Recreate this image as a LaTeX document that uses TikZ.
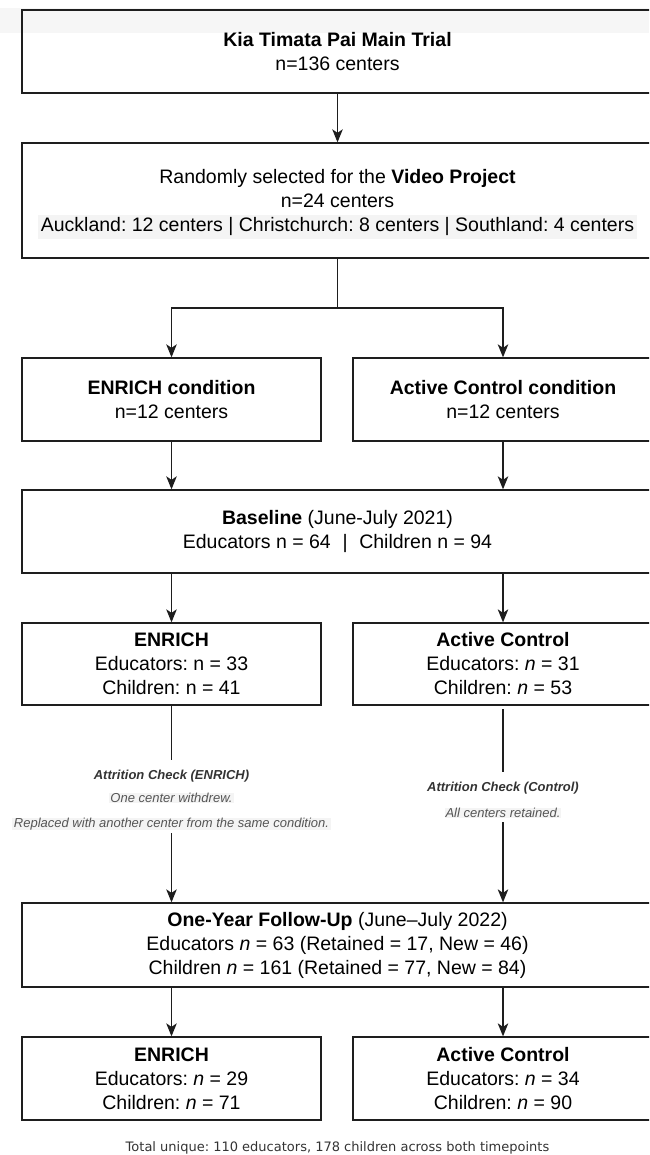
\documentclass[tikz,border=0pt]{standalone}
\usepackage{fontspec}
\setmainfont{Liberation Sans}
\newfontfamily\dejavu{DejaVu Sans}
\usetikzlibrary{arrows.meta}
\definecolor{ink}{HTML}{1E1E1E}
\definecolor{notegray}{HTML}{555555}
\definecolor{notedark}{HTML}{333333}
\definecolor{hl}{HTML}{F4F4F4}
\definecolor{band}{HTML}{F6F6F6}
\setlength{\fboxsep}{0pt}
\frenchspacing
\begin{document}
\frenchspacing
\begin{tikzpicture}[x=1pt,y=-1pt,
  box/.style={draw=ink, line width=1.3pt, align=center, inner sep=0pt,
    font=\fontsize{19.5}{24}\selectfont, text=black},
  line/.style={draw=ink, line width=1.3pt},
  arr/.style={line, -{Stealth[length=13pt,width=10.5pt,inset=3.5pt]}},
  note/.style={font=\fontsize{13}{16}\selectfont\itshape, text=notegray, anchor=base, inner sep=0pt},
  notehead/.style={font=\fontsize{13}{16}\selectfont\bfseries\itshape, text=notedark, anchor=base, inner sep=0pt}]

\useasboundingbox (0,0) rectangle (649,1155);
\clip (0,0) rectangle (649,1155);
\fill[band] (0,8) rectangle (649,33);

% boxes
\node[box, minimum width=631pt, minimum height=83pt] (trial) at (337.5,51.5)
  {\textbf{Kia Timata Pai Main Trial}\\n=136 centers};
\node[box, minimum width=631pt, minimum height=115pt] (select) at (337.5,200.5)
  {Randomly selected for the \textbf{Video Project}\\n=24 centers\\
   \smash{\colorbox{hl}{\kern3pt\strut Auckland: 12 centers | Christchurch: 8 centers | Southland: 4 centers\kern3pt}}};
\node[box, minimum width=299pt, minimum height=83pt] (enc) at (171.5,399.5)
  {\textbf{ENRICH condition}\\n=12 centers};
\node[box, minimum width=300pt, minimum height=83pt] (acc) at (503,399.5)
  {\textbf{Active Control condition}\\n=12 centers};
\node[box, minimum width=631pt, minimum height=83pt] (base) at (337.5,531.5)
  {\textbf{Baseline} (June-July 2021)\\Educators n = 64\hspace{0.6em}|\hspace{0.6em}Children n = 94};
\node[box, minimum width=299pt, minimum height=82pt] (enr) at (171.5,664)
  {\textbf{ENRICH}\\Educators: n = 33\\Children: n = 41};
\node[box, minimum width=300pt, minimum height=82pt] (act) at (503,664)
  {\textbf{Active Control}\\Educators: \textit{n} = 31\\Children: \textit{n} = 53};
\node[box, minimum width=631pt, minimum height=84pt] (fu) at (337.5,945)
  {\textbf{One-Year Follow-Up} (June--July 2022)\\Educators \textit{n} = 63 (Retained = 17, New = 46)\\Children \textit{n} = 161 (Retained = 77, New = 84)};
\node[box, minimum width=299pt, minimum height=83pt] (fenr) at (171.5,1078.5)
  {\textbf{ENRICH}\\Educators: \textit{n} = 29\\Children: \textit{n} = 71};
\node[box, minimum width=300pt, minimum height=83pt] (fact) at (503,1078.5)
  {\textbf{Active Control}\\Educators: \textit{n} = 34\\Children: \textit{n} = 90};

% attrition notes
\node[notehead] (attE) at (171.5,779.5) {Attrition Check (ENRICH)};
\node[note, fill=hl, inner xsep=1pt] (attE1) at (171.5,802.5) {One center withdrew.};
\node[note, fill=hl, inner xsep=2pt] (attE2) at (171.5,827.5) {Replaced with another center from the same condition.};
\node[notehead] (attC) at (503,791.5) {Attrition Check (Control)};
\node[note, fill=hl, inner xsep=1pt] (attC1) at (503,817.5) {All centers retained.};

\node[font=\dejavu\fontsize{13}{16}\selectfont, text=notedark, anchor=base, inner sep=0pt] (total)
  at (337.5,1151.5) {Total unique: 110 educators, 178 children across both timepoints};

% coordinates
\coordinate (split) at (337.5,308);
\coordinate (eTop) at (171.5,760);
\coordinate (eBot) at (171.5,833);
\coordinate (cStart) at (503,709);
\coordinate (cTop) at (503,772);
\coordinate (cBot) at (503,822);

% connectors
\draw[arr] (trial.south) -- (select.north);
\draw[line] (select.south) -- (split);
\draw[arr] (split) -| (enc.north);
\draw[arr] (split) -| (acc.north);
\draw[arr] (enc.south) -- (enc.south |- base.north);
\draw[arr] (acc.south) -- (acc.south |- base.north);
\draw[arr] (base.south -| enr.north) -- (enr.north);
\draw[arr] (base.south -| act.north) -- (act.north);
\draw[line] (enr.south) -- (eTop);
\draw[arr] (eBot) -- (eBot |- fu.north);
\draw[line] (cStart) -- (cTop);
\draw[arr] (cBot) -- (cBot |- fu.north);
\draw[arr] (fu.south -| fenr.north) -- (fenr.north);
\draw[arr] (fu.south -| fact.north) -- (fact.north);
\end{tikzpicture}
\end{document}
